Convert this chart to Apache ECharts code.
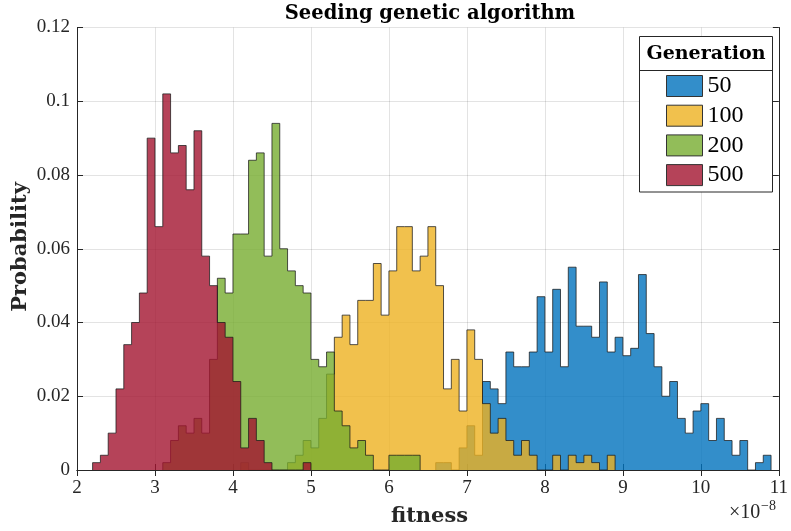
<!DOCTYPE html>
<html><head><meta charset="utf-8">
<script src="https://cdn.jsdelivr.net/npm/echarts@6/dist/echarts.min.js"></script>
<style>html,body{margin:0;padding:0;background:#fff}#c{width:791px;height:531px}</style>
</head><body><div id="c"></div>
<script>
// ---- data (probability per bin, bin width 0.1 x 1e-8) ----
const xTicks = [2, 3, 4, 5, 6, 7, 8, 9, 10, 11];
const yTicks = [0, 0.02, 0.04, 0.06, 0.08, 0.1, 0.12];
const seriesNames = ['50', '100', '200', '500'];
const binWidth = 0.1;

const gen50Start = 6.6;
const gen50 = [0.002, 0.002, 0, 0.006, 0.012, 0.004, 0.024, 0.022, 0.018, 0.032,
  0.028, 0.028, 0.032, 0.047, 0.032, 0.049, 0.028, 0.055, 0.039, 0.039,
  0.036, 0.051, 0.032, 0.036, 0.031, 0.033, 0.053, 0.037, 0.028, 0.020,
  0.024, 0.014, 0.010, 0.016, 0.018, 0.008, 0.014, 0.008, 0.004, 0.008,
  0, 0.002, 0.004];

const gen100Start = 4.1;
const gen100 = [0.002, 0, 0, 0, 0, 0, 0.002, 0.004, 0.008, 0.006,
  0.014, 0.026, 0.036, 0.042, 0.034, 0.046, 0.046, 0.056, 0.042, 0.054,
  0.066, 0.066, 0.054, 0.058, 0.066, 0.050, 0.022, 0.030, 0.016, 0.038,
  0.030, 0.018, 0.010, 0.014, 0.008, 0.004, 0.008, 0.004, 0, 0,
  0.004, 0, 0.004, 0.002, 0.004, 0.002, 0, 0.004];

const gen200Start = 3.1;
const gen200 = [0.002, 0.008, 0.012, 0.010, 0.014, 0.010, 0.030, 0.052, 0.048, 0.064,
  0.064, 0.084, 0.086, 0.058, 0.094, 0.060, 0.054, 0.050, 0.048, 0.030,
  0.028, 0.032, 0.016, 0.012, 0.006, 0.008, 0.004, 0, 0, 0.004,
  0.004, 0.004, 0.004];

const gen500Start = 2.2;
const gen500 = [0.002, 0.004, 0.010, 0.022, 0.034, 0.040, 0.048, 0.090, 0.066, 0.102,
  0.086, 0.088, 0.076, 0.092, 0.058, 0.050, 0.040, 0.036, 0.024, 0.006,
  0.014, 0.008, 0.002, 0, 0, 0, 0, 0.002];

// ---- styling ----
const fills = ['rgba(0,114,189,0.8)', 'rgba(237,177,32,0.8)', 'rgba(119,172,48,0.8)', 'rgba(162,20,47,0.8)'];
const axisColor = '#262626';
const tickFont = 'Liberation Serif';

function stairs(start, vals) {
  const pts = [[start, 0]];
  vals.forEach((v, i) => {
    const l = +(start + i * binWidth).toFixed(3);
    const r = +(start + (i + 1) * binWidth).toFixed(3);
    pts.push([l, v], [r, v]);
  });
  pts.push([+(start + vals.length * binWidth).toFixed(3), 0]);
  return pts;
}

const hist = [[gen50Start, gen50], [gen100Start, gen100], [gen200Start, gen200], [gen500Start, gen500]];

const series = hist.map((h, k) => ({
  name: seriesNames[k],
  type: 'line',
  data: stairs(h[0], h[1]),
  symbol: 'none',
  silent: true,
  animation: false,
  z: 2 + k,
  itemStyle: { color: fills[k] },
  lineStyle: { color: '#1a1a1a', width: 1, opacity: 0.75 },
  areaStyle: { color: fills[k], opacity: 1 }
}));

const grid = { left: 77, right: 9, top: 27.5, bottom: 61 };

const chart = echarts.init(document.getElementById('c'), null, { renderer: 'canvas' });
chart.setOption({
  animation: false,
  backgroundColor: '#fff',
  grid: grid,
  xAxis: [{
    type: 'value', min: xTicks[0], max: xTicks[xTicks.length - 1], interval: 1, position: 'bottom',
    axisLine: { show: true, lineStyle: { color: axisColor, width: 1 } },
    axisTick: { show: true, inside: true, length: 6, lineStyle: { color: axisColor } },
    axisLabel: { color: axisColor, fontFamily: tickFont, fontSize: 19, margin: 9 },
    splitLine: { show: true, lineStyle: { color: 'rgba(38,38,38,0.13)', width: 1 } }
  }, {
    type: 'value', min: xTicks[0], max: xTicks[xTicks.length - 1], interval: 1, position: 'top',
    axisLine: { show: true, lineStyle: { color: axisColor, width: 1 } },
    axisTick: { show: true, inside: true, length: 6, lineStyle: { color: axisColor } },
    axisLabel: { show: false }, splitLine: { show: false }
  }],
  yAxis: [{
    type: 'value', min: yTicks[0], max: yTicks[yTicks.length - 1], interval: 0.02, position: 'left',
    axisLine: { show: true, lineStyle: { color: axisColor, width: 1 } },
    axisTick: { show: true, inside: true, length: 6, lineStyle: { color: axisColor } },
    axisLabel: { color: axisColor, fontFamily: tickFont, fontSize: 19, margin: 7 },
    splitLine: { show: true, lineStyle: { color: 'rgba(38,38,38,0.13)', width: 1 } }
  }, {
    type: 'value', min: yTicks[0], max: yTicks[yTicks.length - 1], interval: 0.02, position: 'right',
    axisLine: { show: true, lineStyle: { color: axisColor, width: 1 } },
    axisTick: { show: true, inside: true, length: 6, lineStyle: { color: axisColor } },
    axisLabel: { show: false }, splitLine: { show: false }
  }],
  legend: {
    orient: 'vertical', left: 666, top: 74, itemWidth: 36, itemHeight: 21, itemGap: 5.7,
    padding: 0, icon: 'rect', selectedMode: false, z: 30,
    textStyle: { fontFamily: tickFont, fontSize: 24, color: '#000' },
    data: seriesNames.map((n, k) => ({ name: n, itemStyle: { color: fills[k], borderColor: '#333', borderWidth: 1 } }))
  },
  graphic: [
    { type: 'rect', z: 20, shape: { x: 639.5, y: 36.5, width: 133, height: 155.5 },
      style: { fill: '#fff', stroke: axisColor, lineWidth: 1 } },
    { type: 'line', z: 21, shape: { x1: 639.5, y1: 70.5, x2: 772.5, y2: 70.5 },
      style: { stroke: axisColor, lineWidth: 1 } },
    { type: 'text', z: 22, style: { text: 'Generation', x: 706, y: 54, align: 'center', verticalAlign: 'middle',
      font: 'bold 19px "DejaVu Serif"', fill: '#000' } },
    { type: 'text', z: 22, style: { text: 'Seeding genetic algorithm', x: 430, y: 14, align: 'center', verticalAlign: 'middle',
      font: 'bold 19.5px "DejaVu Serif"', fill: '#000' } },
    { type: 'text', z: 22, style: { text: 'fitness', x: 429.5, y: 517, align: 'center', verticalAlign: 'middle',
      font: 'bold 21px "DejaVu Serif"', fill: axisColor } },
    { type: 'text', z: 22, rotation: Math.PI / 2, x: 21, y: 247, style: { text: 'Probability', x: 0, y: 0, align: 'center', verticalAlign: 'middle',
      font: 'bold 21px "DejaVu Serif"', fill: axisColor } },
    { type: 'text', z: 22, style: { text: '\u00d710', x: 729, y: 513, align: 'left', verticalAlign: 'middle',
      font: '20px "Liberation Serif"', fill: axisColor } },
    { type: 'text', z: 22, style: { text: '\u22128', x: 761, y: 506, align: 'left', verticalAlign: 'middle',
      font: '14px "Liberation Serif"', fill: axisColor } }
  ],
  series: series
});
</script></body></html>
